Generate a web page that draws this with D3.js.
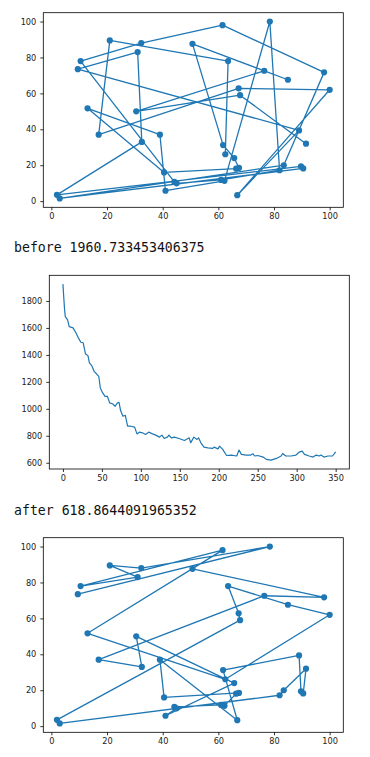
<!DOCTYPE html>
<html><head><meta charset="utf-8">
<script src="https://cdn.jsdelivr.net/npm/d3@7"></script>
<style>body{margin:0;background:#fff}</style></head><body>
<svg id="c" width="370" height="757"></svg>
<script>
const cityX = [21, 32.3, 31, 10.5, 9.5, 13, 30.5, 17, 39, 32.5, 40.5, 44.2, 45, 41, 2, 3, 61.5, 78.5, 50.7, 63.5, 76.5, 85, 98, 100, 67.3, 67.8, 89, 91.5, 61.7, 62.5, 65.7, 66.4, 67.4, 83.5, 82, 89.7, 90.5, 61, 62.2, 66.8];
const cityY = [89.5, 88, 83, 78, 73.5, 51.7, 50, 37, 37, 33, 16, 10.7, 9.9, 5.8, 3.5, 1.5, 98, 100, 87.6, 78, 72.6, 67.6, 71.7, 62, 62.8, 59, 39.4, 32, 31.2, 26.1, 24, 18.1, 18.5, 20, 17.2, 19.4, 18.2, 11.8, 11.3, 3.3];
const routeBefore = [29, 19, 0, 7, 24, 23, 39, 26, 4, 2, 9, 14, 35, 36, 15, 33, 22, 16, 1, 3, 11, 12, 37, 34, 17, 38, 13, 8, 5, 10, 31, 32, 30, 28, 18, 21, 20, 6, 25, 27];
const routeAfter = [4, 17, 1, 0, 2, 3, 16, 5, 29, 23, 21, 19, 24, 25, 14, 15, 34, 33, 27, 36, 35, 26, 28, 39, 8, 10, 32, 31, 38, 37, 11, 12, 13, 30, 6, 9, 7, 20, 22, 18];
const costIter = [0,1,2,3,6,8,13,17,20,23,26,29,32,34,37,40,43,46,48,51,54,57,60,64,67,70,72,74,77,80,83,87,92,95,98,102,106,110,115,119,124,127,130,134,136,139,143,149,156,162,164,168,172,174,177,181,186,192,194,199,201,205,210,216,223,226,229,235,241,244,246,250,257,261,267,274,280,282,286,293,299,304,307,310,316,321,325,329,331,335,340,346,350];
const costVal = [1925,1832,1745,1684,1660,1610,1600,1560,1524,1494,1490,1406,1396,1340,1320,1278,1260,1240,1155,1118,1093,1093,1044,1036,1019,1044,1048,987,945,952,871,871,864,814,827,822,810,827,814,805,790,805,780,790,805,785,790,780,765,785,748,790,773,785,748,716,711,706,716,703,723,699,654,657,650,694,662,657,657,667,650,654,642,625,619,632,650,669,650,650,657,681,686,662,650,642,657,650,657,642,650,650,681];
const scatterTicks = [0, 20, 40, 60, 80, 100];
const costXTicks = [0, 50, 100, 150, 200, 250, 300, 350];
const costYTicks = [600, 800, 1000, 1200, 1400, 1600, 1800];
const textBefore = "before 1960.733453406375";
const textAfter = "after 618.8644091965352";

const svg = d3.select("#c");
const blue = "#1f77b4";
const pad = (arr) => { const [a, b] = d3.extent(arr); const m = (b - a) * 0.05; return [a - m, b + m]; };

function frame(box, xs, ys, xt, yt) {
  const g = svg.append("g");
  const x = d3.scaleLinear().domain(pad(xs)).range([box.l, box.r]);
  const y = d3.scaleLinear().domain(pad(ys)).range([box.b, box.t]);
  const styleAxis = a => {
    a.select(".domain").remove();
    a.selectAll(".tick line").attr("stroke", "#000").attr("stroke-width", 0.8);
    a.selectAll(".tick text").attr("fill", "#222").style("font-family", "DejaVu Sans").style("font-size", "8.2px");
  };
  g.append("g").attr("transform", `translate(0,${box.b})`)
    .call(d3.axisBottom(x).tickValues(xt).tickSize(3).tickPadding(3).tickFormat(d3.format("d"))).call(styleAxis);
  g.append("g").attr("transform", `translate(${box.l},0)`)
    .call(d3.axisLeft(y).tickValues(yt).tickSize(3).tickPadding(4).tickFormat(d3.format("d"))).call(styleAxis);
  return { g, x, y, box };
}
function border(f) {
  const b = f.box;
  f.g.append("rect").attr("x", b.l).attr("y", b.t).attr("width", b.r - b.l).attr("height", b.b - b.t)
    .attr("fill", "none").attr("stroke", "#000").attr("stroke-width", 0.8);
}
function routePanel(box, route) {
  const f = frame(box, cityX, cityY, scatterTicks, scatterTicks);
  const pts = route.map(i => [cityX[i], cityY[i]]);
  const clipId = "clip" + Math.round(box.t);
  f.g.append("clipPath").attr("id", clipId).append("rect").attr("x", box.l).attr("y", box.t).attr("width", box.r - box.l).attr("height", box.b - box.t);
  const inner = f.g.append("g").attr("clip-path", `url(#${clipId})`);
  inner.append("path").attr("d", d3.line().x(d => f.x(d[0])).y(d => f.y(d[1]))(pts))
    .attr("fill", "none").attr("stroke", blue).attr("stroke-width", 1.3).attr("stroke-linejoin", "round");
  inner.selectAll("circle").data(pts).join("circle")
    .attr("cx", d => f.x(d[0])).attr("cy", d => f.y(d[1])).attr("r", 3.1).attr("fill", blue);
  border(f);
}

routePanel({ l: 43.3, r: 343.3, t: 12.7, b: 207.3 }, routeBefore);

svg.append("text").attr("x", 14).attr("y", 251.5).text(textBefore)
  .style("font-family", "DejaVu Sans Mono").style("font-size", "13.2px").attr("fill", "#111");

const fc = frame({ l: 49.3, r: 349.3, t: 275.3, b: 469 }, costIter, costVal, costXTicks, costYTicks);
fc.g.append("path").attr("d", d3.line().x((d, i) => fc.x(costIter[i])).y(d => fc.y(d))(costVal))
  .attr("fill", "none").attr("stroke", blue).attr("stroke-width", 1.2).attr("stroke-linejoin", "round");
border(fc);

svg.append("text").attr("x", 14).attr("y", 514.5).text(textAfter)
  .style("font-family", "DejaVu Sans Mono").style("font-size", "13.2px").attr("fill", "#111");

routePanel({ l: 43.3, r: 343.3, t: 537.7, b: 732.3 }, routeAfter);
</script>
</body></html>
